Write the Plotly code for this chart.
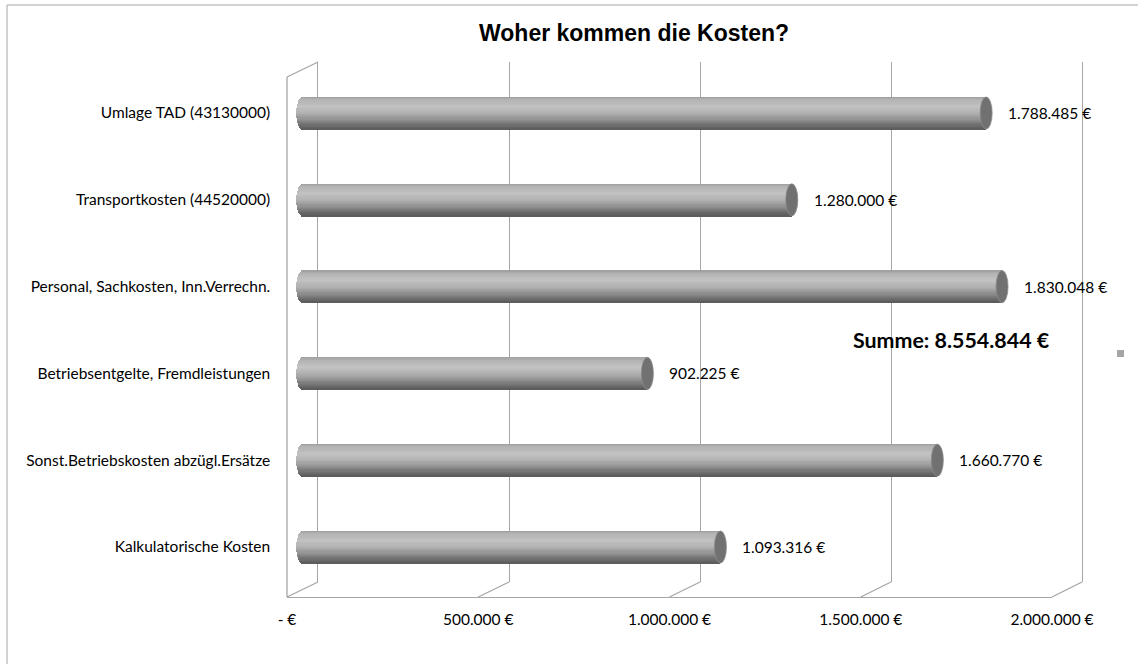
import plotly.graph_objects as go

# ---------------- data ----------------
categories = [
    "Umlage TAD (43130000)",
    "Transportkosten (44520000)",
    "Personal, Sachkosten, Inn.Verrechn.",
    "Betriebsentgelte, Fremdleistungen",
    "Sonst.Betriebskosten abzügl.Ersätze",
    "Kalkulatorische Kosten",
]
values = [1788485, 1280000, 1830048, 902225, 1660770, 1093316]
tick_values = [0, 500000, 1000000, 1500000, 2000000]
tick_labels = ["- €", "500.000 €", "1.000.000 €", "1.500.000 €", "2.000.000 €"]
title_text = "Woher kommen die Kosten?"


def eur(v):
    return f"{v:,}".replace(",", ".") + " €"


total_label = "Summe: " + eur(sum(values))

# ---------------- layout geometry (pixels) ----------------
W, H = 1138, 664
XMAX = 2000000
PAD = 40000  # axis range padding (units) so edge gridlines / caps are not clipped
BACK_X0, BACK_X1 = 318, 1082
FRONT_X0, FRONT_X1 = 287, 1052
MID_X0, MID_X1 = 302.5, 1067
BACK_TOP, BACK_BOT = 62, 582
FRONT_TOP, FRONT_BOT = 77, 597
CAT_TOP, CAT_BOT = 69.6, 590.4
LABEL_RIGHT = 270
BAR_W = 0.37
CAP_PX = 6
PX_PER_UNIT = (MID_X1 - MID_X0) / XMAX
DX = CAP_PX / PX_PER_UNIT
PAD_PX = PAD * PX_PER_UNIT

GRID = "#a6a6a6"
FONT = "Lato"
FS = 15.5


def px(x):
    return x / W


def py(y):
    return 1 - y / H


def shade(t):
    stops = [(0.0, 158), (0.08, 178), (0.3, 194), (0.5, 178), (0.7, 146), (0.88, 110), (1.0, 90)]
    for (t0, c0), (t1, c1) in zip(stops[:-1], stops[1:]):
        if t0 <= t <= t1:
            c = c0 + (c1 - c0) * (t - t0) / (t1 - t0)
            c = int(round(c))
            return f"rgb({c},{c},{c})"
    return "rgb(90,90,90)"


fig = go.Figure()

ypos = list(range(len(categories)))
N = 28
for k in range(N):
    tc = (k + 0.5) / N
    s = 2 * tc - 1
    b = -DX * (1 - s * s) ** 0.5
    fig.add_trace(go.Bar(
        orientation="h",
        y=ypos,
        x=[v - b for v in values],
        base=b,
        width=BAR_W / N * 1.15,
        offset=-BAR_W / 2 + k * BAR_W / N,
        marker=dict(color=shade(tc), line=dict(width=0)),
        xaxis="x3", yaxis="y3",
        showlegend=False, hoverinfo="skip",
    ))

# back wall gridlines axis
fig.add_trace(go.Scatter(x=[None], y=[None], xaxis="x2", yaxis="y2", showlegend=False))
# front axis
fig.add_trace(go.Scatter(x=[None], y=[None], xaxis="x", yaxis="y", showlegend=False))

shapes = []
# end caps
for i, v in enumerate(values):
    shapes.append(dict(type="circle", xref="x3", yref="y3",
                       x0=v - DX, x1=v + DX, y0=i - BAR_W / 2, y1=i + BAR_W / 2,
                       fillcolor="#717171", line=dict(color="#8a8a8a", width=0.8), layer="above"))
# floor diagonals
for tv in tick_values:
    xb = BACK_X0 + (BACK_X1 - BACK_X0) * tv / XMAX
    xf = FRONT_X0 + (FRONT_X1 - FRONT_X0) * tv / XMAX
    shapes.append(dict(type="line", xref="paper", yref="paper",
                       x0=px(xb), y0=py(BACK_BOT), x1=px(xf), y1=py(FRONT_BOT),
                       line=dict(color=GRID, width=1.3), layer="below"))
# left wall: top diagonal and front vertical edge
shapes.append(dict(type="line", xref="paper", yref="paper",
                   x0=px(FRONT_X0), y0=py(FRONT_TOP), x1=px(BACK_X0), y1=py(BACK_TOP),
                   line=dict(color=GRID, width=1.3), layer="below"))
shapes.append(dict(type="line", xref="paper", yref="paper",
                   x0=px(FRONT_X0), y0=py(FRONT_TOP), x1=px(FRONT_X0), y1=py(FRONT_BOT),
                   line=dict(color=GRID, width=1.3), layer="below"))
# chart border
shapes.append(dict(type="rect", xref="paper", yref="paper",
                   x0=px(7), y0=py(5), x1=px(W + 10), y1=py(H + 10),
                   line=dict(color="#a6a6a6", width=1), layer="below"))
# legend key remnant
shapes.append(dict(type="rect", xref="paper", yref="paper",
                   x0=px(1117), y0=py(357), x1=px(1124), y1=py(350),
                   fillcolor="#a6a6a6", line=dict(width=0)))

annotations = []
for i, v in enumerate(values):
    annotations.append(dict(xref="x3", yref="y3", x=v, y=i, text=eur(v),
                            xanchor="left", yanchor="middle", xshift=20, showarrow=False,
                            font=dict(family=FONT, size=FS, color="#000")))
annotations.append(dict(xref="paper", yref="paper", x=px(951), y=py(340), text="<b>" + total_label + "</b>",
                        xanchor="center", yanchor="middle", showarrow=False,
                        font=dict(family=FONT, size=21.4, color="#000")))
annotations.append(dict(xref="paper", yref="paper", x=px(634), y=py(33), text="<b>" + title_text + "</b>",
                        xanchor="center", yanchor="middle", showarrow=False,
                        font=dict(family="Liberation Sans, Arial", size=23, color="#000")))

fig.update_layout(
    width=W, height=H, autosize=False,
    margin=dict(l=0, r=0, t=0, b=0, pad=0),
    paper_bgcolor="white", plot_bgcolor="rgba(0,0,0,0)",
    barmode="overlay", bargap=0,
    showlegend=False,
    shapes=shapes, annotations=annotations,
    xaxis=dict(domain=[px(FRONT_X0), px(FRONT_X1)], range=[0, XMAX], anchor="y",
               tickvals=tick_values, ticktext=tick_labels, showgrid=False, zeroline=False,
               showline=True, linecolor=GRID, linewidth=1.3, ticks="", ticklabelstandoff=8,
               tickfont=dict(family=FONT, size=FS, color="#000"), automargin=False, fixedrange=True),
    yaxis=dict(domain=[py(FRONT_BOT), py(FRONT_TOP)], range=[0, 1], anchor="x",
               showgrid=False, zeroline=False, showticklabels=False, showline=False,
               ticks="", automargin=False, fixedrange=True),
    xaxis2=dict(domain=[px(BACK_X0 - PAD_PX), px(BACK_X1 + PAD_PX)], range=[-PAD, XMAX + PAD], anchor="y2",
                tickvals=tick_values, showgrid=True, gridcolor=GRID, gridwidth=1.3,
                zeroline=False, showticklabels=False, showline=False, automargin=False, fixedrange=True),
    yaxis2=dict(domain=[py(BACK_BOT), py(BACK_TOP)], range=[0, 1], anchor="x2",
                showgrid=False, zeroline=False, showticklabels=False, showline=False,
                automargin=False, fixedrange=True),
    xaxis3=dict(domain=[px(MID_X0 - PAD_PX), px(MID_X1 + PAD_PX)], range=[-PAD, XMAX + PAD], anchor="y3",
                showgrid=False, zeroline=False, showticklabels=False, showline=False,
                automargin=False, fixedrange=True),
    yaxis3=dict(domain=[py(CAT_BOT), py(CAT_TOP)], range=[len(categories) - 0.5, -0.5], anchor="x3",
                tickvals=ypos, ticktext=categories, showgrid=False, zeroline=False,
                showline=False, ticks="", ticklabelstandoff=int(MID_X0 - PAD_PX - LABEL_RIGHT - 1),
                tickfont=dict(family=FONT, size=FS, color="#000"), automargin=False, fixedrange=True),
)

fig.write_html("out.html", config={"displayModeBar": False},
               post_script="document.body.style.margin='0';document.body.style.overflow='hidden';")
